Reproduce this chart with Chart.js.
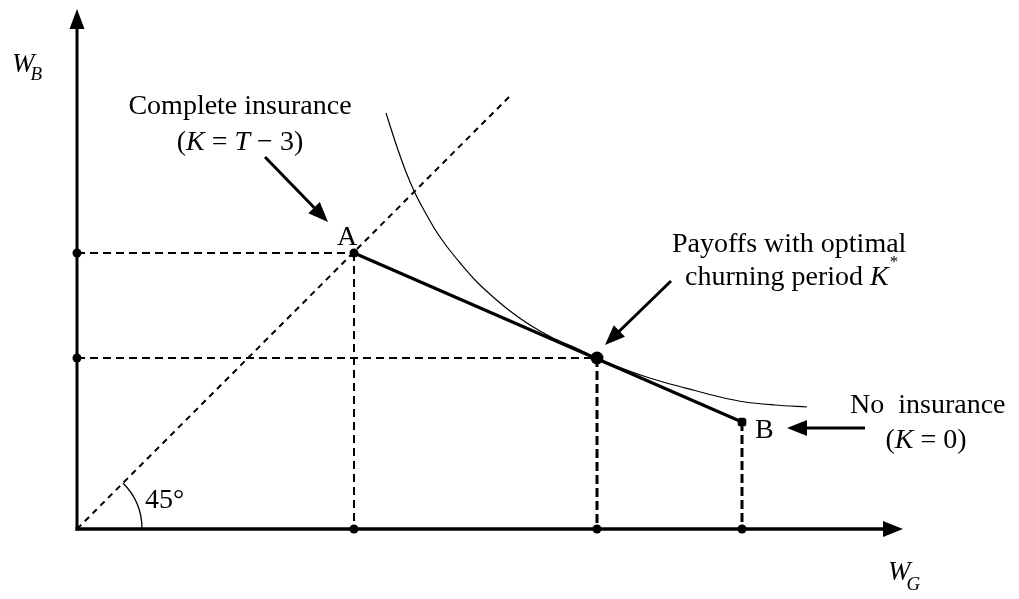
<!DOCTYPE html>
<html>
<head>
<meta charset="utf-8">
<script src="https://cdn.jsdelivr.net/npm/chart.js@4"></script>
<style>
html,body{margin:0;padding:0;background:#fff;overflow:hidden;}
#wrap{position:relative;width:1019px;height:599px;}
</style>
</head>
<body>
<div id="wrap"><canvas id="c"></canvas></div>
<script>
// ---- data (wealth units measured from the origin) ----
const pointA = [277, 276];          // complete insurance
const pointK = [520, 171];          // optimal churning period K*
const pointB = [665, 107];          // no insurance
const line45 = [[0, 0], [435, 435]];
const curveX = [309, 320, 329, 338, 348, 359, 371, 384, 399, 415, 433, 453, 475, 498, 520, 543, 568, 593, 618, 643, 668, 698, 730];
const curveY = [416, 382, 357, 336, 317, 298, 281, 265, 248, 233, 218, 204, 191.5, 181.5, 171, 161.4, 152.5, 145, 138.5, 132, 127, 124, 122];
const axisXEnd = 826;
const axisYEnd = 520;

const SERIF = '"Liberation Serif","Times New Roman",serif';

const pts = (xs, ys) => xs.map((v, i) => ({x: v, y: ys[i]}));
const P = a => ({x: a[0], y: a[1]});

const lineDs = (data, w, dash, extra) => Object.assign({
  data, showLine: true, borderColor: '#000', backgroundColor: '#000',
  borderWidth: w, borderDash: dash || [], pointRadius: 0, tension: 0, clip: false
}, extra || {});

const datasets = [
  lineDs(line45.map(P), 2, [6, 5]),
  lineDs([{x: 0, y: pointA[1]}, P(pointA)], 2, [8, 5]),
  lineDs([{x: 0, y: pointK[1]}, P(pointK)], 2, [8, 5]),
  lineDs([P(pointA), {x: pointA[0], y: 0}], 2, [8, 5]),
  lineDs([P(pointK), {x: pointK[0], y: 0}], 3, [9, 4]),
  lineDs([P(pointB), {x: pointB[0], y: 0}], 3, [9, 4]),
  lineDs(pts(curveX, curveY), 1.2, [], {cubicInterpolationMode: 'monotone'}),
  lineDs([P(pointA), P(pointB)], 3),
  { data: [{x: 0, y: pointA[1]}, {x: 0, y: pointK[1]}, {x: pointA[0], y: 0}, {x: pointK[0], y: 0}, {x: pointB[0], y: 0}, P(pointA)],
    showLine: false, pointRadius: 4.5, pointBackgroundColor: '#000', pointBorderWidth: 0, clip: false },
  { data: [P(pointB)], showLine: false, pointStyle: 'rectRounded', pointRadius: 5, pointBackgroundColor: '#000', pointBorderWidth: 0, clip: false },
  { data: [P(pointK)], showLine: false, pointRadius: 6.5, pointBackgroundColor: '#000', pointBorderWidth: 0, clip: false }
];

// annotation arrows (tail -> head), data units
const arrows = [
  {from: [188, 372], to: [251, 307], w: 3},
  {from: [594, 248], to: [528, 184], w: 3},
  {from: [788, 101], to: [710, 101], w: 3}
];

function drawArrow(ctx, x1, y1, x2, y2, w, len, half) {
  const ang = Math.atan2(y2 - y1, x2 - x1);
  const bx = x2 - Math.cos(ang) * len, by = y2 - Math.sin(ang) * len;
  ctx.lineWidth = w; ctx.setLineDash([]); ctx.lineCap = 'butt';
  ctx.beginPath(); ctx.moveTo(x1, y1); ctx.lineTo(bx + Math.cos(ang) * 2, by + Math.sin(ang) * 2); ctx.stroke();
  ctx.beginPath();
  ctx.moveTo(x2, y2);
  ctx.lineTo(bx + Math.sin(ang) * half, by - Math.cos(ang) * half);
  ctx.lineTo(bx - Math.sin(ang) * half, by + Math.cos(ang) * half);
  ctx.closePath(); ctx.fill();
}

function rich(ctx, runs, x, y, size, align) {
  let total = 0;
  runs.forEach(r => { ctx.font = (r[1] ? 'italic ' : '') + size + 'px ' + SERIF; total += ctx.measureText(r[0]).width; });
  let cx = align === 'center' ? x - total / 2 : x;
  ctx.textAlign = 'left'; ctx.textBaseline = 'alphabetic';
  runs.forEach(r => { ctx.font = (r[1] ? 'italic ' : '') + size + 'px ' + SERIF; ctx.fillText(r[0], cx, y); cx += ctx.measureText(r[0]).width; });
  return cx;
}

const annot = {
  id: 'annot',
  afterDatasetsDraw(chart) {
    const ctx = chart.ctx, xs = chart.scales.x, ys = chart.scales.y;
    const px = v => xs.getPixelForValue(v), py = v => ys.getPixelForValue(v);
    ctx.save();
    ctx.fillStyle = '#000'; ctx.strokeStyle = '#000';
    // axes
    drawArrow(ctx, px(0) - 1.5, py(0), px(axisXEnd), py(0), 3.5, 20, 8);
    drawArrow(ctx, px(0), py(0) + 1.5, px(0), py(axisYEnd), 3, 20, 7.5);
    // annotation arrows
    arrows.forEach(a => drawArrow(ctx, px(a.from[0]), py(a.from[1]), px(a.to[0]), py(a.to[1]), a.w, 20, 8));
    // 45 degree arc
    ctx.lineWidth = 1.3;
    ctx.beginPath(); ctx.arc(px(0), py(0), px(65) - px(0), -Math.PI / 4, 0); ctx.stroke();
    // texts
    const S = 28;
    let e = rich(ctx, [['W', true]], px(-65), py(457), 27, 'left');
    rich(ctx, [['B', true]], e - 4, py(449), 19, 'left');
    e = rich(ctx, [['W', true]], px(811), py(-51), 27, 'left');
    rich(ctx, [['G', true]], e - 4, py(-61), 19, 'left');
    rich(ctx, [['Complete insurance', false]], px(163), py(415), S, 'center');
    rich(ctx, [['(', false], ['K', true], [' = ', false], ['T', true], [' \u2212 3)', false]], px(163), py(379), S, 'center');
    rich(ctx, [['A', false]], px(270), py(284), S, 'center');
    rich(ctx, [['Payoffs with optimal', false]], px(595), py(277), S, 'left');
    e = rich(ctx, [['churning period ', false], ['K', true]], px(608), py(244), S, 'left');
    rich(ctx, [['*', false]], e + 1, py(262), 17, 'left');
    rich(ctx, [['B', false]], px(678), py(91), S, 'left');
    rich(ctx, [['No  insurance', false]], px(773), py(116), S, 'left');
    rich(ctx, [['(', false], ['K', true], [' = 0)', false]], px(849), py(81), S, 'center');
    rich(ctx, [['45\u00b0', false]], px(68), py(21), S, 'left');
    ctx.restore();
  }
};

new Chart(document.getElementById('c'), {
  type: 'scatter',
  data: {datasets},
  options: {
    responsive: true, maintainAspectRatio: false, animation: false,
    layout: {padding: 0, autoPadding: false},
    plugins: {legend: {display: false}, tooltip: {enabled: false}},
    scales: {
      x: {type: 'linear', display: false, min: -77, max: 942},
      y: {type: 'linear', display: false, min: -70, max: 529}
    }
  },
  plugins: [annot]
});
</script>
</body>
</html>
